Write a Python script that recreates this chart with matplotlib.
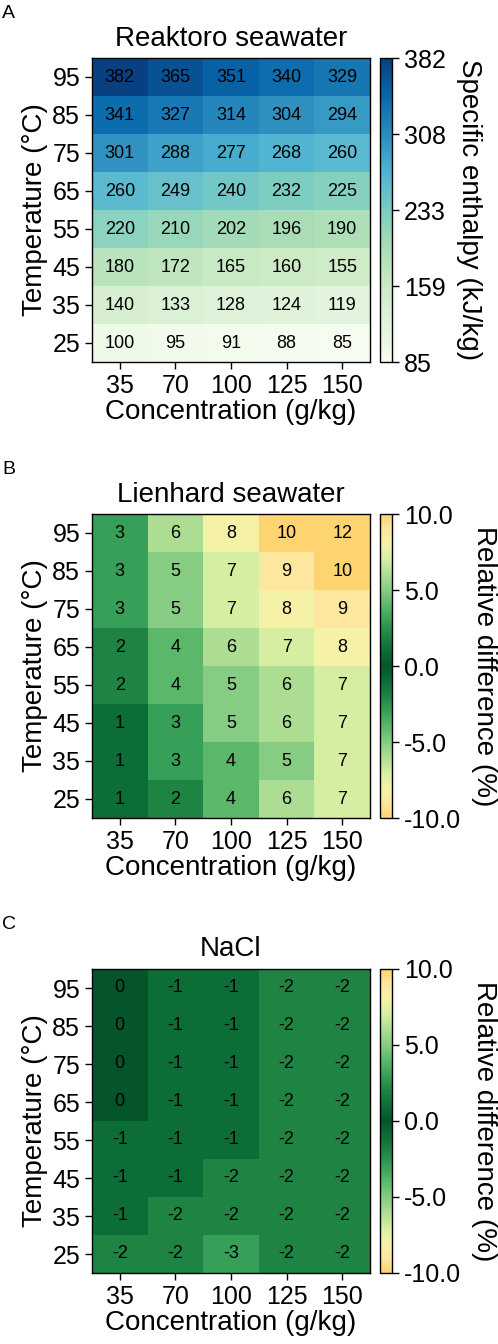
import numpy as np
import matplotlib
matplotlib.use("Agg")
import matplotlib.pyplot as plt
from matplotlib.colors import LinearSegmentedColormap

plt.rcParams['font.family'] = ['Liberation Sans', 'DejaVu Sans']

concentrations = [35, 70, 100, 125, 150]
temperatures = [95, 85, 75, 65, 55, 45, 35, 25]  # top to bottom

reaktoro = [
    [382, 365, 351, 340, 329],
    [341, 327, 314, 304, 294],
    [301, 288, 277, 268, 260],
    [260, 249, 240, 232, 225],
    [220, 210, 202, 196, 190],
    [180, 172, 165, 160, 155],
    [140, 133, 128, 124, 119],
    [100, 95, 91, 88, 85],
]
lienhard = [
    [3, 6, 8, 10, 12],
    [3, 5, 7, 9, 10],
    [3, 5, 7, 8, 9],
    [2, 4, 6, 7, 8],
    [2, 4, 5, 6, 7],
    [1, 3, 5, 6, 7],
    [1, 3, 4, 5, 7],
    [1, 2, 4, 6, 7],
]
nacl = [
    [0, -1, -1, -2, -2],
    [0, -1, -1, -2, -2],
    [0, -1, -1, -2, -2],
    [0, -1, -1, -2, -2],
    [-1, -1, -1, -2, -2],
    [-1, -1, -2, -2, -2],
    [-1, -2, -2, -2, -2],
    [-2, -2, -3, -2, -2],
]

enthalpy_ticks = [85, 159.25, 233.5, 307.75, 382]
enthalpy_tick_labels = ["85", "159", "233", "308", "382"]
diff_ticks = [-10, -5, 0, 5, 10]
diff_tick_labels = ["-10.0", "-5.0", "0.0", "5.0", "10.0"]

titles = ["Reaktoro seawater", "Lienhard seawater", "NaCl"]
letters = ["A", "B", "C"]
cbar_labels = ["Specific enthalpy (kJ/kg)", "Relative difference (%)", "Relative difference (%)"]

# diverging colormap: yellow/orange at +-10, dark green at 0
half = ['#fdd470', '#fde7a0', '#f5f2a8', '#d5eea1', '#acdd93', '#85cc83',
        '#5bb86a', '#37a058', '#1f8443', '#0c6d37', '#05552b']
div_colors = half + half[::-1][1:]
div_cmap = LinearSegmentedColormap.from_list('ygy', div_colors, N=512)

W, H = 498, 1344
fig = plt.figure(figsize=(W / 100, H / 100), dpi=100)

tops = [58, 514, 969]
ax_left, ax_right = 92, 370
ax_h = 304
cb_left, cb_w = 380, 12

datasets = [reaktoro, lienhard, nacl]
for i in range(3):
    data = np.array(datasets[i], dtype=float)
    top = tops[i]
    ax = fig.add_axes([ax_left / W, (H - top - ax_h) / H, (ax_right - ax_left) / W, ax_h / H])
    cax = fig.add_axes([cb_left / W, (H - top - ax_h) / H, cb_w / W, ax_h / H])
    if i == 0:
        cmap = plt.get_cmap('GnBu')
        vmin, vmax = data.min(), data.max()
    else:
        cmap = div_cmap
        vmin, vmax = -10, 10
    mesh = ax.pcolormesh(np.arange(len(concentrations) + 1), np.arange(len(temperatures) + 1),
                         data, cmap=cmap, vmin=vmin, vmax=vmax)
    ax.set_ylim(len(temperatures), 0)
    ax.set_xlim(0, len(concentrations))
    for r in range(len(temperatures)):
        for c in range(len(concentrations)):
            ax.text(c + 0.5, r + 0.5, "%d" % data[r, c], ha='center', va='center',
                    fontsize=13, color='black')
    ax.set_xticks(np.arange(len(concentrations)) + 0.5)
    ax.set_xticklabels([str(v) for v in concentrations])
    ax.set_yticks(np.arange(len(temperatures)) + 0.5)
    ax.set_yticklabels([str(v) for v in temperatures])
    ax.tick_params(labelsize=18, length=5, width=1)
    ax.set_xlabel("Concentration (g/kg)", fontsize=20, labelpad=1)
    ax.set_ylabel("Temperature (°C)", fontsize=20, labelpad=3)
    ax.set_title(titles[i], fontsize=20, pad=9)
    for s in ax.spines.values():
        s.set_linewidth(1.0)

    cb = fig.colorbar(mesh, cax=cax)
    if i == 0:
        cb.set_ticks(enthalpy_ticks)
        cb.set_ticklabels(enthalpy_tick_labels)
    else:
        cb.set_ticks(diff_ticks)
        cb.set_ticklabels(diff_tick_labels)
    cax.tick_params(labelsize=18, length=5, width=1)
    cb.outline.set_linewidth(1.0)
    cb.set_label(cbar_labels[i], fontsize=20, rotation=270, labelpad=26)

    fig.text(2 / W, 1 - (top - 53) / H, letters[i], fontsize=14, va='top', ha='left')

fig.savefig("out.png", dpi=100)
